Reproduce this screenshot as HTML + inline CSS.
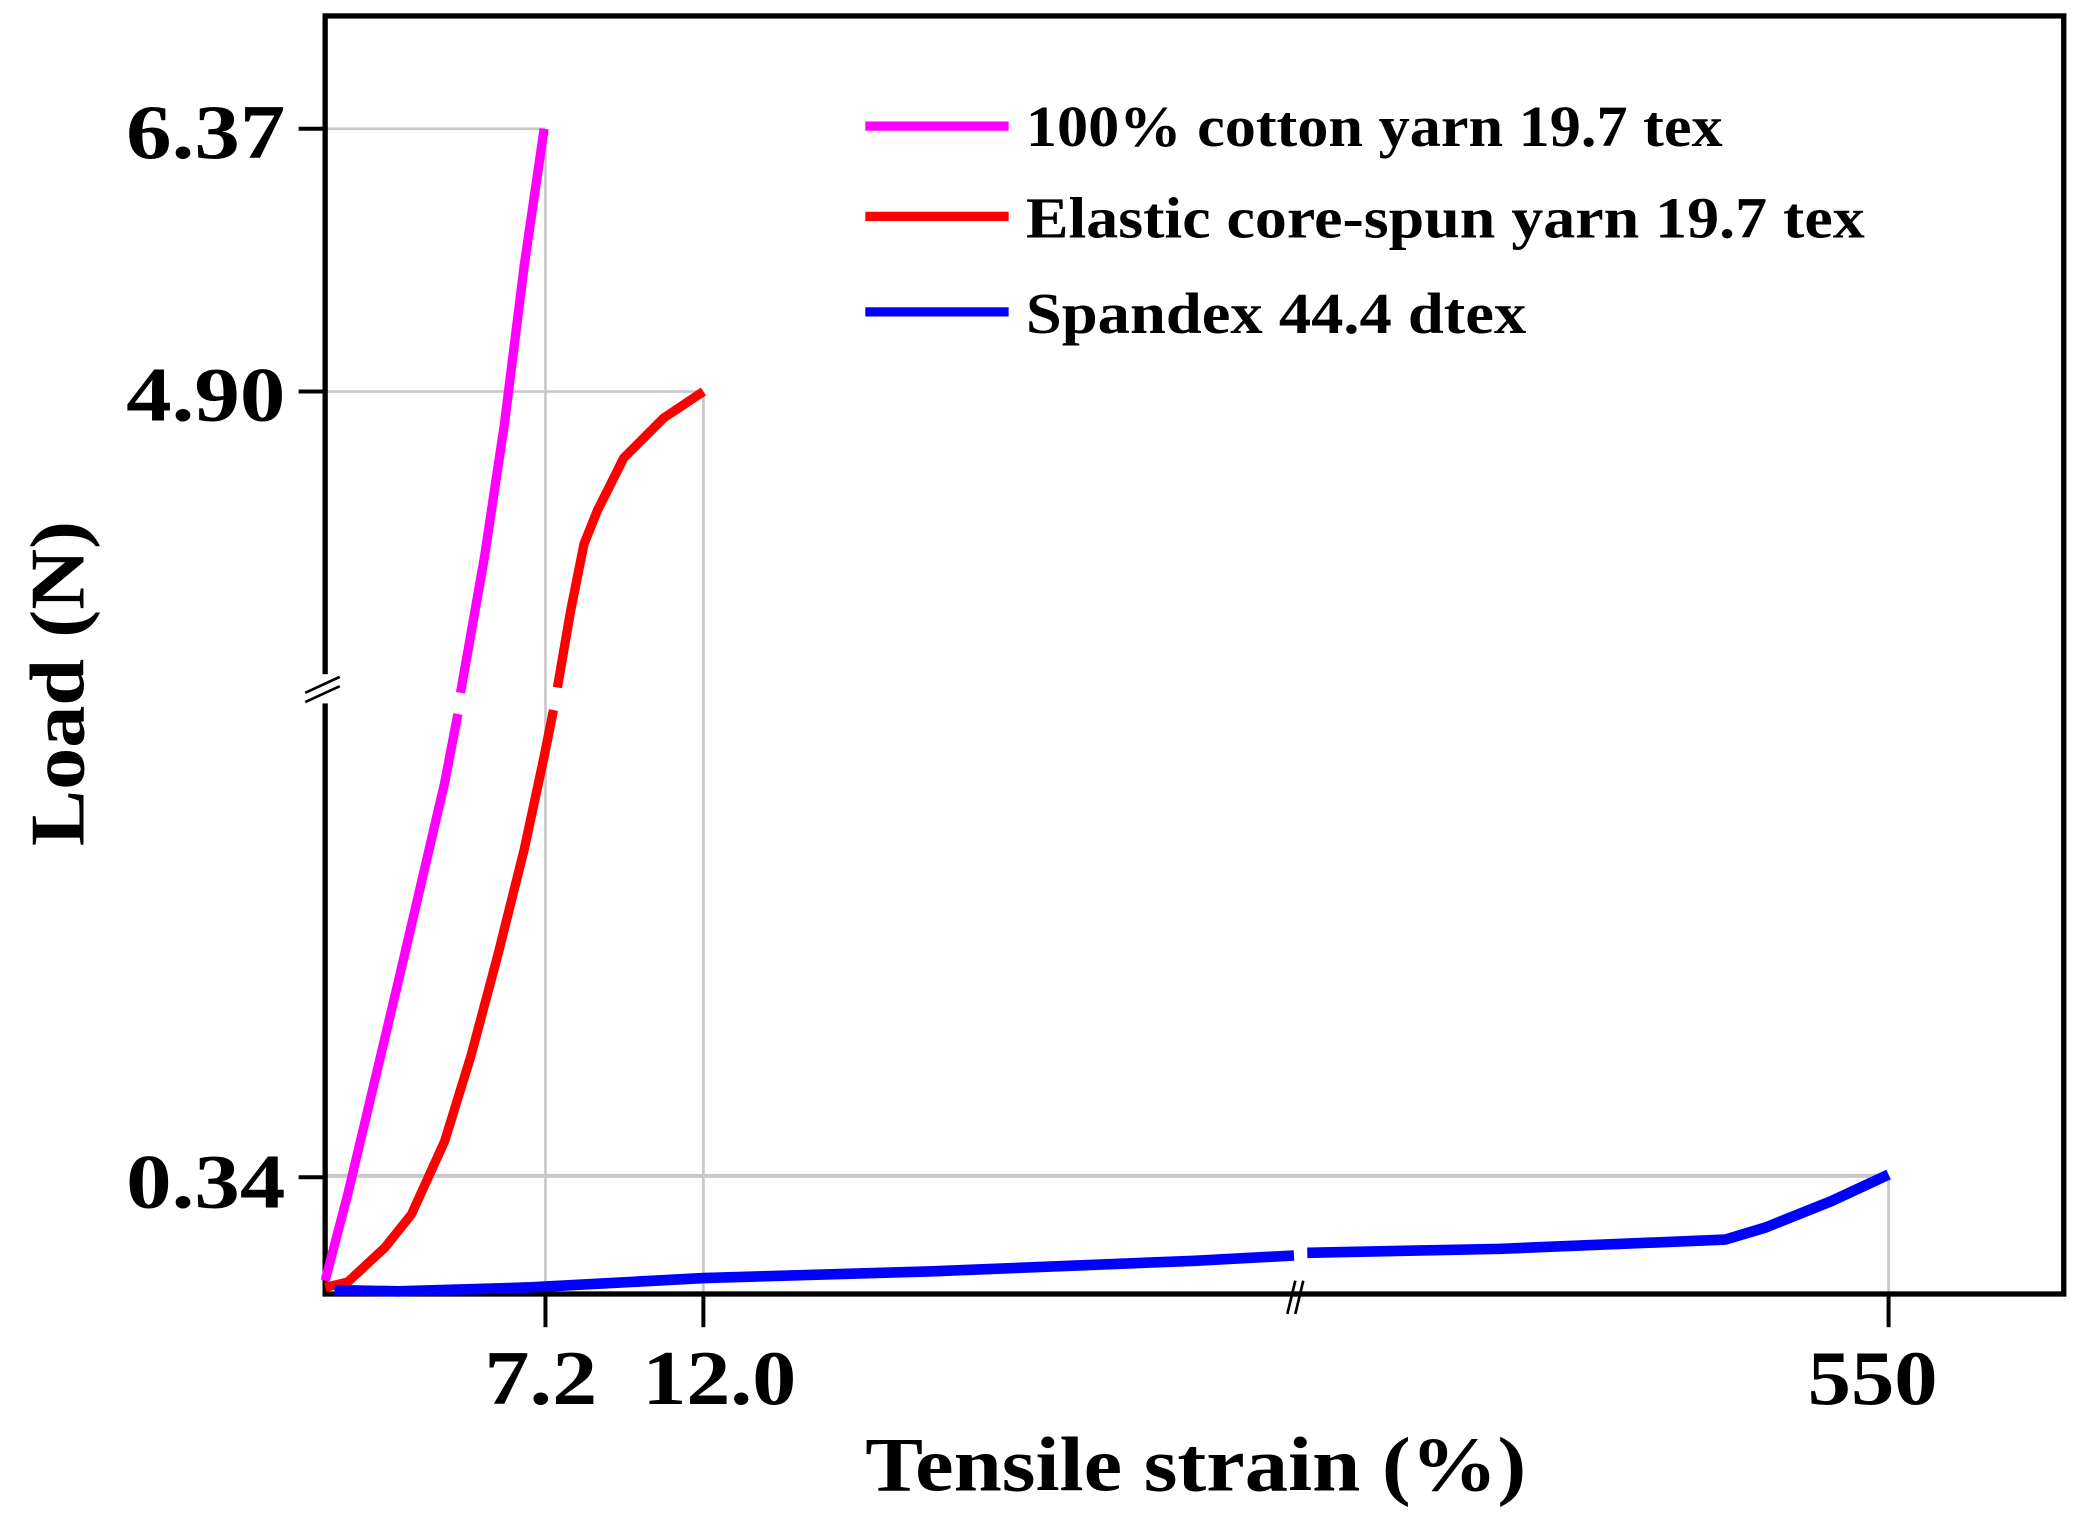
<!DOCTYPE html>
<html><head><meta charset="utf-8"><style>html,body{margin:0;padding:0;background:#fff}svg{display:block}</style></head>
<body>
<svg width="2081" height="1524" viewBox="0 0 1568 1148.3" xmlns="http://www.w3.org/2000/svg" font-family="'Liberation Serif', serif" font-weight="bold">
<rect width="1568" height="1148.3" fill="#fff"/>
<g stroke="#c8c8c8" stroke-width="2" fill="none">
<line x1="245" y1="97" x2="411" y2="97"/>
<line x1="245" y1="295" x2="530" y2="295"/>
<line x1="245" y1="886" x2="1423" y2="886" stroke-width="3"/>
<line x1="411" y1="97" x2="411" y2="975"/>
<line x1="530" y1="295" x2="530" y2="975"/>
<line x1="1423" y1="886" x2="1423" y2="975"/>
</g>
<rect x="245" y="12" width="1310" height="963" fill="none" stroke="#000" stroke-width="4"/>
<g stroke="#000" stroke-width="3">
<line x1="225" y1="97" x2="245" y2="97"/>
<line x1="225" y1="295" x2="245" y2="295"/>
<line x1="225" y1="887" x2="245" y2="887"/>
<line x1="411" y1="975" x2="411" y2="1000"/>
<line x1="530" y1="975" x2="530" y2="1000"/>
<line x1="1423" y1="975" x2="1423" y2="1000"/>
</g>
<rect x="236" y="508" width="20" height="22" fill="#fff"/>
<g stroke="#000" stroke-width="2">
<line x1="230" y1="522" x2="256" y2="510"/><line x1="230" y1="529" x2="256" y2="517"/>
<line x1="970" y1="990" x2="976" y2="965"/><line x1="976" y1="990" x2="982" y2="965"/>
</g>
<g fill="none" stroke-width="7" stroke-linejoin="round" stroke-linecap="butt">
<polyline stroke="#ff00ff" points="245,965 262,900 300,740 335,590 345,538"/>
<polyline stroke="#ff00ff" points="347,522 365,420 380,320 395,200 410,97"/>
<polyline stroke="#ff0000" points="245,970 262,966 290,940 310,915 335,860 355,795 375,720 395,640 410,570 417,535"/>
<polyline stroke="#ff0000" points="420,518 430,460 440,410 450,385 470,345 500,315 530,295"/>
<polyline stroke="#0000ff" stroke-width="8" points="252,972 300,973 400,970 530,963 700,958 900,950 975,946"/>
<polyline stroke="#0000ff" stroke-width="8" points="985,944 1130,941 1300,934 1330,925 1380,905 1423,885"/>
</g>
<g stroke-width="7">
<line x1="652" y1="95" x2="760" y2="95" stroke="#ff00ff"/>
<line x1="652" y1="163" x2="760" y2="163" stroke="#ff0000"/>
<line x1="652" y1="235" x2="760" y2="235" stroke="#0000ff"/>
</g>
<g font-size="44" fill="#000" font-weight="600">
<text x="773" y="110" textLength="525" lengthAdjust="spacingAndGlyphs">100% cotton yarn 19.7 tex</text>
<text x="773" y="179" textLength="632" lengthAdjust="spacingAndGlyphs">Elastic core-spun yarn 19.7 tex</text>
<text x="773" y="251" textLength="377" lengthAdjust="spacingAndGlyphs">Spandex 44.4 dtex</text>
</g>
<g font-size="58" fill="#000">
<text x="95" y="119" textLength="120" lengthAdjust="spacingAndGlyphs">6.37</text>
<text x="95" y="317" textLength="120" lengthAdjust="spacingAndGlyphs">4.90</text>
<text x="95" y="910" textLength="120" lengthAdjust="spacingAndGlyphs">0.34</text>
<text x="365" y="1058" textLength="85" lengthAdjust="spacingAndGlyphs">7.2</text>
<text x="484" y="1058" textLength="116" lengthAdjust="spacingAndGlyphs">12.0</text>
<text x="1362" y="1058" textLength="98" lengthAdjust="spacingAndGlyphs">550</text>
<text x="652" y="1123" textLength="498" lengthAdjust="spacingAndGlyphs">Tensile strain (%)</text>
<text transform="translate(63,515) rotate(-90)" text-anchor="middle" textLength="245" lengthAdjust="spacingAndGlyphs">Load (N)</text>
</g>
</svg>
</body></html>
